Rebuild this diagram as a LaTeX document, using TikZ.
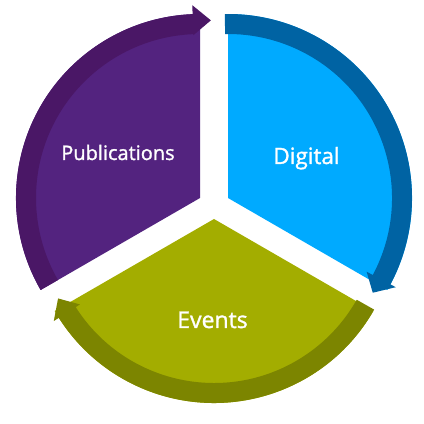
\documentclass[tikz,border=0pt]{standalone}
\usepackage{fontspec}
\setmainfont{Open Sans}
\newfontfamily\semib[FakeBold=1.3]{Open Sans}
\definecolor{pubfill}{HTML}{53237F}
\definecolor{pubband}{HTML}{4A1766}
\definecolor{digfill}{HTML}{00AAFF}
\definecolor{digband}{HTML}{0063A3}
\definecolor{evfill}{HTML}{A3AD00}
\definecolor{evband}{HTML}{7C8500}
\tikzset{label text/.style={text=white, inner sep=0pt, anchor=base}}
\begin{document}
\begin{tikzpicture}[x=1pt,y=1pt]
\useasboundingbox (0,0) rectangle (424,424);
\coordinate (P) at (200,226);
\coordinate (D) at (228,226);
\coordinate (E) at (214,205);
% sectors
\fill[pubfill] (P) -- ++(90:184) arc[start angle=90,end angle=210,radius=184] -- cycle;
\fill[digfill] (D) -- ++(-30:184) arc[start angle=-30,end angle=90,radius=184] -- cycle;
\fill[evfill] (E) -- ++(210:184) arc[start angle=210,end angle=330,radius=184] -- cycle;
% bands with arrow heads
\begin{scope}[shift={(P)}]
\fill[pubband] (210:184) arc[start angle=210,end angle=92.3,radius=184]
  -- (92.3:193) -- (86.5:178) -- (92.3:163) -- (92.3:164)
  arc[start angle=92.3,end angle=210,radius=164] -- cycle;
\end{scope}
\begin{scope}[shift={(D)}]
\fill[digband] (91:184) arc[start angle=91,end angle=-28,radius=184]
  -- (-28:190) -- (-33.2:173) -- (-28:157) -- (-28:164)
  arc[start angle=-28,end angle=91,radius=164] -- cycle;
\end{scope}
\begin{scope}[shift={(E)}]
\fill[evband] (330.5:184) arc[start angle=330.5,end angle=212.5,radius=184]
  -- (212.5:190) -- (207:175) -- (212.5:159) -- (212.5:164)
  arc[start angle=212.5,end angle=330.5,radius=164] -- cycle;
\end{scope}
% labels
\node[label text, font=\semib\fontsize{20}{20}\selectfont] (pub) at (118,264) {Publications};
\node[label text, font=\semib\fontsize{22.5}{22.5}\selectfont] (dig) at (306.5,260) {Digital};
\node[label text, font=\semib\fontsize{23}{23}\selectfont] (ev) at (212.5,96) {Events};
\end{tikzpicture}
\end{document}
